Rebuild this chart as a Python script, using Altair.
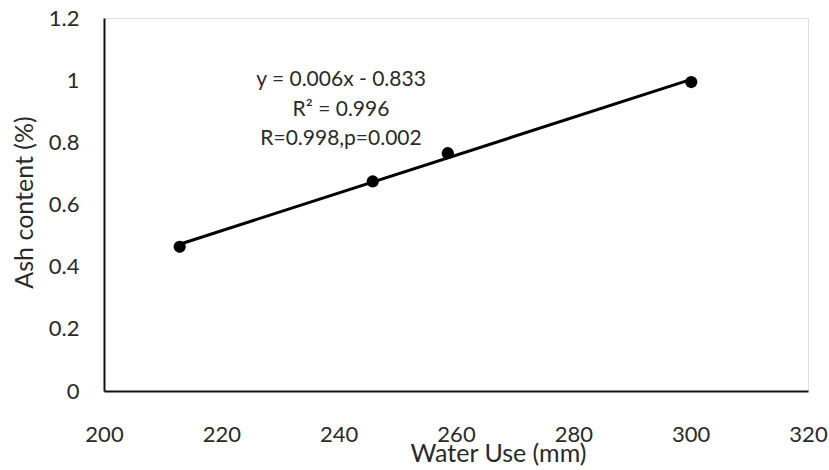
import altair as alt
import pandas as pd

water_use = [212.9, 245.8, 258.6, 300.1]
ash_content = [0.464, 0.674, 0.765, 0.994]

annot_lines = ["y = 0.006x - 0.833", "R² = 0.996", "R=0.998,p=0.002"]
annot_x = [240.4, 240.4, 240.4]
annot_y = [1.0, 0.905, 0.81]

df = pd.DataFrame({"x": water_use, "y": ash_content})
ann = pd.DataFrame({"t": annot_lines, "x": annot_x, "y": annot_y})

FONT = "Lato"
TXT = "#2a2a2a"

xs = alt.Scale(domain=[200, 320], nice=False, zero=False)
ys = alt.Scale(domain=[0, 1.2], nice=False)

xax = alt.Axis(
    values=[200, 220, 240, 260, 280, 300, 320], ticks=False, grid=False,
    domainColor="#111", domainWidth=1.8, labelPadding=33, labelFontSize=22,
    labelColor=TXT, labelFont=FONT, title="Water Use (mm)",
    titleFont=FONT, titleFontSize=25, titleFontWeight="normal", titleColor=TXT,
    titleX=394, titleY=70, titleAlign="center", titleBaseline="alphabetic",
    labelFlush=False,
)
yax = alt.Axis(
    values=[0, 0.2, 0.4, 0.6, 0.8, 1.0, 1.2], ticks=False, grid=False,
    domainColor="#111", domainWidth=2, labelPadding=25, labelFontSize=22,
    labelColor=TXT, labelFont=FONT, title="Ash content (%)",
    titleFont=FONT, titleFontSize=25, titleFontWeight="normal", titleColor=TXT,
    titleX=-80, titleY=184, titleAngle=-90, titleAlign="center",
    titleBaseline="middle", labelFlush=False,
    labelExpr="datum.value == 1 ? '1' : format(datum.value, '.1f') == '0.0' ? '0' : format(datum.value, '.1f')",
)

base = alt.Chart(df)

points = base.mark_point(filled=True, color="black", size=150, opacity=1).encode(
    x=alt.X("x:Q", scale=xs, axis=xax),
    y=alt.Y("y:Q", scale=ys, axis=yax),
)

line = base.transform_regression("x", "y").mark_line(color="black", strokeWidth=3).encode(
    x=alt.X("x:Q", scale=xs),
    y=alt.Y("y:Q", scale=ys),
)

text = alt.Chart(ann).mark_text(font=FONT, fontSize=21, color=TXT, align="center").encode(
    x=alt.X("x:Q", scale=xs),
    y=alt.Y("y:Q", scale=ys),
    text="t:N",
)

chart = alt.layer(line, points, text).properties(
    width=704, height=373,
    autosize=alt.AutoSizeParams(type="none"),
    padding={"left": 104, "top": 18, "right": 21, "bottom": 79},
).configure_view(stroke=None).configure(background="white")

chart.save("out.html", embed_options={"renderer": "svg", "actions": False})
